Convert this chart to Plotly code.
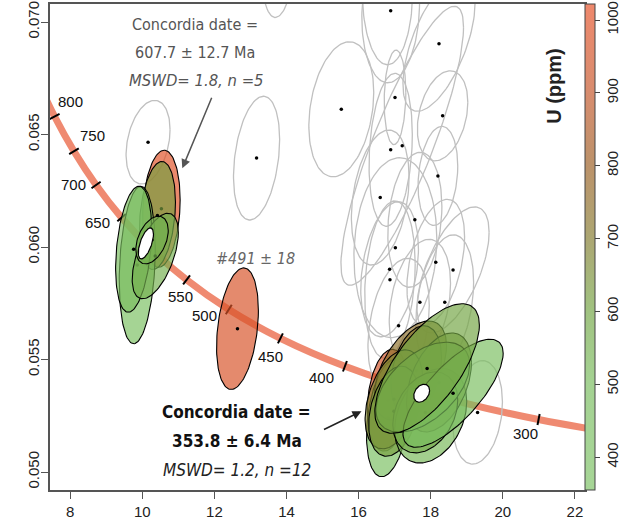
import numpy as np
import plotly.graph_objects as go

# ---------------- data ----------------
# Concordia reference curve (Tera-Wasserburg), values read at 50 Ma steps
conc_age = [250, 300, 350, 400, 450, 500, 550, 600, 650, 700, 750, 800, 850]
conc_x = [25.289, 20.992, 17.923, 15.621, 13.831, 12.399, 11.228, 10.252, 9.426, 8.718, 8.105, 7.568, 7.095]
conc_y = [0.051203, 0.052333, 0.053499, 0.054701, 0.055940, 0.057219, 0.058539, 0.059901,
          0.061306, 0.062757, 0.064254, 0.065799, 0.067395]
tick_ages = [300, 350, 400, 450, 500, 550, 600, 650, 700, 750, 800]
label_ages = [800, 750, 700, 650, 550, 500, 450, 400, 300]

# grey (rejected) analyses: centre, 2-sigma half widths, error correlation
gray_x = [16.89, 16.80, 13.80, 15.52, 18.23, 18.33, 17.01, 16.89, 17.21, 18.20, 16.60, 17.56,
          17.02, 18.14, 18.62, 16.86, 16.87, 17.70, 18.39, 17.11, 19.30, 10.16, 13.17]
gray_y = [0.07050, 0.07140, 0.07380, 0.06612, 0.06903, 0.06583, 0.06665, 0.06432, 0.06450, 0.06316,
          0.06220, 0.06121, 0.05997, 0.05932, 0.05898, 0.05901, 0.05855, 0.05754, 0.05754, 0.05650,
          0.05265, 0.06466, 0.06395]
gray_sx = [0.80, 0.70, 0.55, 0.90, 1.00, 0.70, 0.30, 0.60, 1.70, 0.55, 0.80, 0.75,
           1.15, 0.80, 1.00, 0.80, 0.70, 0.85, 0.80, 0.85, 0.69, 0.61, 0.64]
gray_sy = [0.0032, 0.0033, 0.0036, 0.0030, 0.0030, 0.0020, 0.0021, 0.0034, 0.0062, 0.0022,
           0.0030, 0.0030, 0.0040, 0.0028, 0.0028, 0.0030, 0.0035, 0.0028, 0.0030, 0.0030,
           0.0023, 0.00186, 0.00275]
gray_rho = [0.10, 0.00, 0.20, 0.25, 0.60, 0.30, 0.10, 0.20, 0.85, 0.20, 0.30, 0.20,
            0.10, 0.40, 0.60, 0.30, 0.20, 0.30, 0.30, 0.30, 0.20, 0.30, 0.30]
gray_dot = [1, 0, 0, 1, 1, 1, 1, 1, 1, 1, 1, 1, 1, 1, 1, 1, 1, 1, 1, 1, 1, 1, 1]

# older concordant group
old_x = [10.53, 10.42, 9.86, 9.76, 10.36, 10.27]
old_y = [0.06170, 0.06140, 0.05920, 0.05990, 0.05960, 0.06031]
old_sx = [0.52, 0.50, 0.50, 0.50, 0.64, 0.45]
old_sy = [0.0026, 0.0024, 0.0035, 0.0028, 0.0019, 0.00106]
old_rho = [0.15, 0.25, 0.20, 0.30, 0.55, 0.40]
old_u = [1000, 620, 420, 480, 560, 560]

# single analysis #491
s_x = [12.64]
s_y = [0.05637]
s_sx = [0.58]
s_sy = [0.0027]
s_rho = [0.30]
s_u = [970]

# younger concordant group (n = 12)
yng_x = [16.82, 16.82, 17.44, 17.60, 16.98, 16.98, 18.00, 18.23, 17.85, 17.78, 18.62, 17.90]
yng_y = [0.05319, 0.05239, 0.05451, 0.05450, 0.05323, 0.05270, 0.05250, 0.05398, 0.05265, 0.05377, 0.05350, 0.05460]
yng_sx = [0.58, 0.60, 1.00, 0.70, 0.80, 0.70, 1.00, 0.90, 0.90, 1.30, 1.39, 1.45]
yng_sy = [0.00226, 0.0026, 0.0022, 0.0020, 0.0022, 0.0020, 0.0021, 0.0022, 0.0018, 0.0020, 0.0024, 0.00288]
yng_rho = [0.20, 0.30, 0.50, 0.30, 0.40, 0.30, 0.30, 0.40, 0.30, 0.50, 0.74, 0.67]
yng_u = [950, 420, 740, 720, 680, 620, 520, 640, 580, 560, 460, 600]

# concordia dates (white ellipses)
cd_x = [10.10, 17.75]
cd_y = [0.06016, 0.05350]
cd_sx = [0.21, 0.22]
cd_sy = [0.00069, 0.00040]
cd_rho = [0.60, 0.30]

x_ticks = [8, 10, 12, 14, 16, 18, 20, 22]
y_ticks = [0.050, 0.055, 0.060, 0.065, 0.070]
u_ticks = [400, 500, 600, 700, 800, 900, 1000]

# ---------------- style ----------------
XR = [7.44, 22.28]
YR = [0.0492, 0.0708]
L, R, T, B = 50, 50, 2, 32
W, H = 635, 522
pxx = (W - L - R) / (XR[1] - XR[0])
pxy = (H - T - B) / (YR[1] - YR[0])
U_MIN, U_MAX = 355, 1022

vis_cols = [(0.00, (166, 213, 150)), (0.22, (164, 210, 146)), (0.37, (160, 194, 128)),
            (0.52, (172, 166, 114)), (0.67, (188, 146, 106)), (0.82, (216, 140, 110)),
            (1.00, (238, 136, 108))]
colorscale = [[p, 'rgb(%d,%d,%d)' % c] for p, c in vis_cols]
ALPHA = 0.68


def vis_color(u):
    f = (u - U_MIN) / (U_MAX - U_MIN)
    f = min(max(f, 0), 1)
    for (p0, c0), (p1, c1) in zip(vis_cols[:-1], vis_cols[1:]):
        if p0 <= f <= p1:
            t = (f - p0) / (p1 - p0)
            return [c0[i] + t * (c1[i] - c0[i]) for i in range(3)]
    return list(vis_cols[-1][1])


def fill_color(u):
    c = vis_color(u)
    base = [min(max((v - 255 * (1 - ALPHA)) / ALPHA, 0), 255) for v in c]
    return 'rgba(%d,%d,%d,%.2f)' % (base[0], base[1], base[2], ALPHA)


def ellipse(cx, cy, sx, sy, rho, n=120):
    t = np.linspace(0, 2 * np.pi, n)
    ex = cx + sx * np.cos(t)
    ey = cy + sy * (rho * np.cos(t) + np.sqrt(1 - rho ** 2) * np.sin(t))
    return ex, ey


fig = go.Figure()

# concordia curve
fig.add_trace(go.Scatter(x=conc_x, y=conc_y, mode='lines',
                         line=dict(color='rgba(236,112,82,0.82)', width=7, shape='spline', smoothing=1.0),
                         hoverinfo='skip', showlegend=False))

# age ticks on the concordia
tx, ty, ang = [], [], []
for a in tick_ages:
    i = conc_age.index(a)
    dx = (conc_x[i + 1] - conc_x[i - 1]) * pxx
    dy = -(conc_y[i + 1] - conc_y[i - 1]) * pxy
    tx.append(conc_x[i]); ty.append(conc_y[i])
    ang.append(float(np.degrees(np.arctan2(dy, dx))))
fig.add_trace(go.Scatter(x=tx, y=ty, mode='markers',
                         marker=dict(symbol='line-ns', size=8, angle=ang, line=dict(color='black', width=2)),
                         hoverinfo='skip', showlegend=False))

# grey ellipses
gx, gy = [], []
for i in range(len(gray_x)):
    ex, ey = ellipse(gray_x[i], gray_y[i], gray_sx[i], gray_sy[i], gray_rho[i])
    gx += list(ex) + [None]; gy += list(ey) + [None]
fig.add_trace(go.Scatter(x=gx, y=gy, mode='lines', line=dict(color='rgb(192,192,192)', width=1.3),
                         hoverinfo='skip', showlegend=False))
fig.add_trace(go.Scatter(x=[gray_x[i] for i in range(len(gray_x)) if gray_dot[i]],
                         y=[gray_y[i] for i in range(len(gray_y)) if gray_dot[i]],
                         mode='markers', marker=dict(color='black', size=3.5),
                         hoverinfo='skip', showlegend=False))


def add_group(xs, ys, sxs, sys_, rhos, us):
    for i in range(len(xs)):
        ex, ey = ellipse(xs[i], ys[i], sxs[i], sys_[i], rhos[i])
        fig.add_trace(go.Scatter(x=ex, y=ey, mode='lines', fill='toself', fillcolor=fill_color(us[i]),
                                 line=dict(color='black', width=1.1), hoverinfo='skip', showlegend=False))
        fig.add_trace(go.Scatter(x=[xs[i]], y=[ys[i]], mode='markers', marker=dict(color='black', size=3.5),
                                 hoverinfo='skip', showlegend=False))


add_group(old_x, old_y, old_sx, old_sy, old_rho, old_u)
add_group(s_x, s_y, s_sx, s_sy, s_rho, s_u)
add_group(yng_x, yng_y, yng_sx, yng_sy, yng_rho, yng_u)

for i in range(len(cd_x)):
    ex, ey = ellipse(cd_x[i], cd_y[i], cd_sx[i], cd_sy[i], cd_rho[i])
    fig.add_trace(go.Scatter(x=ex, y=ey, mode='lines', fill='toself', fillcolor='white',
                             line=dict(color='black', width=1.2), hoverinfo='skip', showlegend=False))

TICKFONT = dict(family='Liberation Sans, Arial', size=15, color='#222')

# colour bar
fig.add_trace(go.Scatter(x=[None], y=[None], mode='markers',
                         marker=dict(color=[600], colorscale=colorscale, cmin=U_MIN, cmax=U_MAX, showscale=True,
                                     colorbar=dict(thickness=10, x=1.0, xanchor='left', xpad=0, y=0.5, yanchor='middle',
                                                   len=1.0, ypad=0, outlinecolor='#444', outlinewidth=1,
                                                   tickvals=u_ticks, ticks='outside', ticklen=5, tickcolor='#444',
                                                   tickangle=-90, tickfont=TICKFONT)),
                         hoverinfo='skip', showlegend=False))

# age labels
label_off = {800: (16, 15), 750: (19, 16), 700: (-23, 0), 650: (-24, -5), 550: (-6, -17),
             500: (-24, -6), 450: (-10, -18), 400: (-23, -11), 300: (-13, -14)}
ann = []
for a in label_ages:
    i = conc_age.index(a)
    ann.append(dict(x=conc_x[i], y=conc_y[i], xref='x', yref='y', text=str(a), showarrow=False,
                    xshift=label_off[a][0], yshift=label_off[a][1],
                    font=dict(family='Liberation Sans, Arial', size=15, color='#111')))

COND = 'Liberation Sans Narrow, DejaVu Sans Condensed, Arial Narrow, Roboto Condensed, Liberation Sans'


def P(px, py):
    return (px - L) / (W - L - R), 1 - (py - T) / (H - T - B)


def txt(px, py, s, size, color, bold=False, italic=False):
    x, y = P(px, py)
    ann.append(dict(x=x, y=y, xref='paper', yref='paper', text=s, showarrow=False,
                    xanchor='center', yanchor='middle',
                    font=dict(family=COND, size=size, color=color, weight='bold' if bold else 'normal',
                              style='italic' if italic else 'normal')))


txt(195, 23, 'Concordia date =', 16, '#555')
txt(195, 51, '607.7 ± 12.7 Ma', 16, '#555')
txt(196, 79, 'MSWD= 1.8, n =5', 16.5, '#555', italic=True)
txt(255, 258, '#491 ± 18', 16, '#666', italic=True)
txt(236, 412, 'Concordia date =', 17, '#111', bold=True)
txt(237, 441, '353.8 ± 6.4 Ma', 17, '#111', bold=True)
txt(237, 470, 'MSWD= 1.2, n =12', 17, '#222', italic=True)

# colour bar title
x, y = P(567, 44)
ann.append(dict(x=x, y=y, xref='paper', yref='paper', text='U (ppm)', showarrow=False, textangle=-90,
                font=dict(family='Liberation Sans, Arial', size=20, color='#222', weight='bold')))

# arrows
ann.append(dict(x=11.11, y=0.06350, xref='x', yref='y', ax=30, ay=-72, text='', showarrow=True,
                arrowhead=2, arrowsize=1.2, arrowwidth=1.5, arrowcolor='#555'))
ann.append(dict(x=16.08, y=0.05270, xref='x', yref='y', ax=-39, ay=19, text='', showarrow=True,
                arrowhead=2, arrowsize=1.2, arrowwidth=1.5, arrowcolor='#222'))

axis_common = dict(showgrid=False, zeroline=False, showline=True, mirror=True, linecolor='#555', linewidth=1.5,
                   ticks='outside', ticklen=7, tickcolor='#555', tickwidth=1.2, tickfont=TICKFONT)

fig.update_layout(
    width=W, height=H, margin=dict(l=L, r=R, t=T, b=B),
    paper_bgcolor='white', plot_bgcolor='white',
    xaxis=dict(range=XR, tickvals=x_ticks, **axis_common),
    yaxis=dict(range=YR, tickvals=y_ticks, ticktext=['%.3f' % v for v in y_ticks], tickangle=-90,
               ticklabelstandoff=-4, **axis_common),
    annotations=ann, showlegend=False,
)

fig.write_html('out.html')
